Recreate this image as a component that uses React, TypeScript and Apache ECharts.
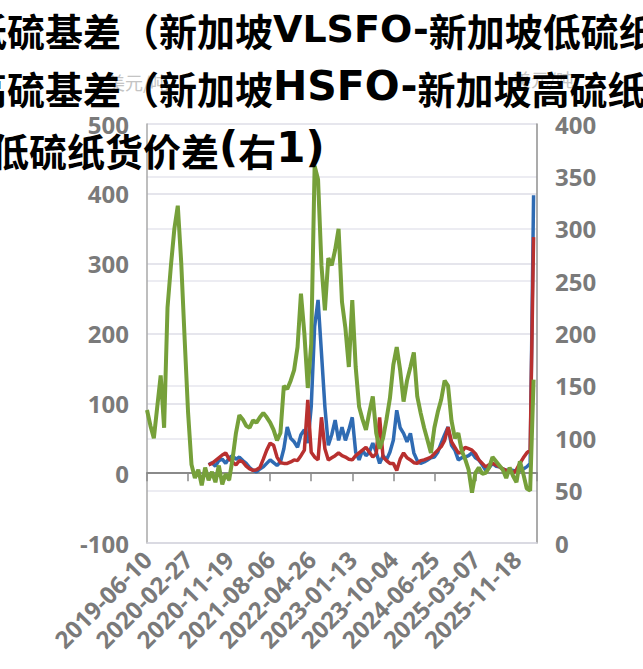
import React, { useEffect, useRef } from "react";
import * as echarts from "echarts";

// x tick labels (one every 12 sample slots)
const TICK_LABELS = [
  "2019-06-10", "2020-02-27", "2020-11-19", "2021-08-06", "2022-04-26",
  "2023-01-13", "2023-10-04", "2024-06-25", "2025-03-07", "2025-11-18",
];
const SLOTS_PER_LABEL = 12;
const SLOT_MAX = 114;

const SERIES_NAMES = [
  "新加坡低硫基差（新加坡VLSFO-新加坡低硫纸货）",
  "新加坡高硫基差（新加坡HSFO-新加坡高硫纸货）",
  "新加坡高低硫纸货价差(右1)",
];
// same names split into CJK / Latin runs for the oversized legend lines
const LEGEND_RUNS: [string, string][][] = [
  [["c", "新加坡低硫基差（新加坡"], ["l", "VLSFO-"], ["c", "新加坡低硫纸货）"]],
  [["c", "新加坡高硫基差（新加坡"], ["h", "HSFO-"], ["c", "新加坡高硫纸货）"]],
  [["c", "新加坡高低硫纸货价差"], ["p", "("], ["c", "右"], ["p", "1)"]],
];

// basis series start at slot 18
const BASIS_START = 18;

// 新加坡低硫基差 (left axis, USD/t)
const vlsfoBasis = [
  12, 15, 10, 18, 20, 14, 22, 25, 20, 23, 18, 14, 8, 4, 2, 6, 9, 14, 19, 15,
  11, 16, 35, 66, 50, 45, 37, 55, 62, 43, 95, 210, 248, 172, 95, 40, 55, 76, 47, 66,
  47, 62, 80, 30, 19, 33, 25, 30, 43, 30, 14, 25, 19, 30, 47, 90, 65, 57, 45, 57,
  29, 18, 14, 16, 19, 22, 23, 30, 43, 55, 66, 40, 33, 19, 22, 23, 25, 29, 22, 19,
  12, 4, 8, 14, 10, 9, 6, 4, 5, 4, 3, 4, 6, 9, 14, 398,
];

// 新加坡高硫基差 (left axis, USD/t)
const hsfoBasis = [
  12, 14, 18, 22, 26, 29, 20, 16, 12, 18, 16, 10, 6, 4, 5, 8, 20, 33, 43, 40,
  23, 15, 14, 14, 16, 19, 18, 25, 33, 105, 30, 23, 19, 80, 35, 19, 22, 25, 29, 25,
  23, 20, 19, 25, 29, 33, 37, 30, 23, 28, 80, 23, 18, 14, 14, 4, 20, 29, 22, 19,
  15, 14, 18, 19, 21, 23, 28, 33, 38, 47, 66, 45, 37, 29, 30, 37, 35, 33, 28, 19,
  14, 9, 12, 14, 12, 9, 6, 4, 2, 0, 5, 14, 22, 29, 33, 338,
];

// 新加坡高低硫纸货价差 (right axis, USD/t)
const hiLoSpread = [
  127, 112, 100, 130, 160, 110, 225, 265, 300, 322, 268, 195, 125, 75, 62, 70, 55, 72, 60, 68,
  58, 74, 56, 66, 60, 80, 105, 122, 118, 112, 110, 117, 115, 120, 124, 120, 115, 108, 98, 105,
  150, 147, 155, 165, 187, 238, 200, 148, 190, 360, 347, 265, 222, 272, 265, 280, 300, 230, 205, 168,
  232, 168, 130, 118, 108, 125, 140, 105, 90, 100, 118, 138, 170, 187, 165, 135, 155, 168, 182, 140,
  124, 110, 98, 86, 110, 125, 137, 155, 150, 117, 100, 105, 88, 80, 70, 48, 67, 72, 66, 67,
  72, 82, 78, 74, 70, 62, 72, 64, 58, 78, 66, 52, 50, 156,
];

const COLORS = ["#2f6bb3", "#b8302f", "#76a03a"];

export default function App() {
  const ref = useRef<HTMLDivElement>(null);
  useEffect(() => {
    if (!ref.current) return;
    const chart = echarts.init(ref.current, undefined, { renderer: "svg" });
    const labelFont = { fontSize: 24, fontWeight: "bold" as const, color: "#7a7a7a", fontFamily: "Open Sans" };
    const toPairs = (arr: number[], start: number) => arr.map((v, i) => [start + i, v]);
    const rich = {
      c: { fontSize: 38, fontWeight: "bold", fontFamily: "Noto Sans CJK SC", color: "#3a3a3a", lineHeight: 50, verticalAlign: "bottom" },
      l: { fontSize: 38, fontWeight: "bold", fontFamily: "DejaVu Sans", color: "#3a3a3a", lineHeight: 50, verticalAlign: "bottom" },
      h: { fontSize: 41, fontWeight: "bold", fontFamily: "DejaVu Sans", color: "#3a3a3a", lineHeight: 50, verticalAlign: "bottom" },
      p: { fontSize: 42, fontWeight: "bold", fontFamily: "DejaVu Sans", color: "#3a3a3a", lineHeight: 50, verticalAlign: "bottom" },
    };
    const legendText = (runs: [string, string][]) => runs.map(([k, t]) => `{${k}|${t}}`).join("");
    const legendX = [-145, -145, -161];
    const legendY = [23, 81, 143];
    chart.setOption({
      animation: false,
      backgroundColor: "#ffffff",
      grid: { left: 147, right: 106, top: 124, bottom: 126, containLabel: false },
      xAxis: [
        {
          type: "value",
          min: 0,
          max: SLOT_MAX,
          interval: SLOTS_PER_LABEL,
          position: "bottom",
          axisLine: { show: true, onZero: false, lineStyle: { color: "#d6d6de", width: 1.5 } },
          axisTick: { show: false },
          splitLine: { show: false },
          axisLabel: {
            ...labelFont,
            rotate: 45,
            margin: 12,
            showMaxLabel: false,
            formatter: (v: number) =>
              v % SLOTS_PER_LABEL === 0 ? TICK_LABELS[v / SLOTS_PER_LABEL] ?? "" : "",
          },
        },
        {
          type: "value",
          min: 0,
          max: SLOT_MAX,
          interval: SLOTS_PER_LABEL,
          position: "bottom",
          axisLine: { show: true, onZero: true, onZeroAxisIndex: 0, lineStyle: { color: "#8a8a8a", width: 2 } },
          axisTick: { show: true, length: 8, lineStyle: { color: "#8a8a8a", width: 1.5 } },
          splitLine: { show: false },
          axisLabel: { show: false },
        },
      ],
      yAxis: [
        {
          type: "value",
          min: -100,
          max: 500,
          interval: 100,
          position: "left",
          axisLine: { show: true, onZero: false, lineStyle: { color: "#a8a8a8", width: 1.5 } },
          axisTick: { show: false },
          splitLine: { show: true, lineStyle: { color: "#dcdce6", width: 1.5 } },
          axisLabel: { ...labelFont, margin: 18 },
        },
        {
          type: "value",
          min: 0,
          max: 400,
          interval: 50,
          position: "right",
          axisLine: { show: true, onZero: false, lineStyle: { color: "#8f8f8f", width: 1.5 } },
          axisTick: { show: false },
          splitLine: { show: true, lineStyle: { color: "#e6e6ee", width: 1.5 } },
          axisLabel: { ...labelFont, margin: 18 },
        },
      ],
      series: [
        {
          name: SERIES_NAMES[0],
          type: "line",
          xAxisIndex: 0,
          yAxisIndex: 0,
          data: toPairs(vlsfoBasis, BASIS_START),
          showSymbol: false,
          lineStyle: { color: COLORS[0], width: 3.5 },
          itemStyle: { color: COLORS[0] },
          z: 2,
        },
        {
          name: SERIES_NAMES[1],
          type: "line",
          xAxisIndex: 0,
          yAxisIndex: 0,
          data: toPairs(hsfoBasis, BASIS_START),
          showSymbol: false,
          lineStyle: { color: COLORS[1], width: 3.5 },
          itemStyle: { color: COLORS[1] },
          z: 3,
        },
        {
          name: SERIES_NAMES[2],
          type: "line",
          xAxisIndex: 0,
          yAxisIndex: 1,
          data: toPairs(hiLoSpread, 0),
          showSymbol: false,
          lineStyle: { color: COLORS[2], width: 4 },
          itemStyle: { color: COLORS[2] },
          z: 4,
        },
      ],
      graphic: [
        { type: "text", x: 107, y: 82, z: 1, style: { text: "美元/吨", fill: "#c4c4c4", font: '18px "Noto Sans CJK SC"', textVerticalAlign: "middle" } },
        { type: "text", x: 513, y: 79, z: 1, style: { text: "美元/吨", fill: "#c4c4c4", font: '18px "Noto Sans CJK SC"', textVerticalAlign: "middle" } },
        ...LEGEND_RUNS.map((runs, i) => ({
          type: "text",
          x: legendX[i],
          y: legendY[i],
          z: 10,
          style: { text: legendText(runs), rich, textVerticalAlign: "middle" },
        })),
      ],
    });
    return () => chart.dispose();
  }, []);
  return (
    <div
      ref={ref}
      style={{ position: "fixed", left: 0, top: 0, width: 643, height: 669 }}
    />
  );
}
